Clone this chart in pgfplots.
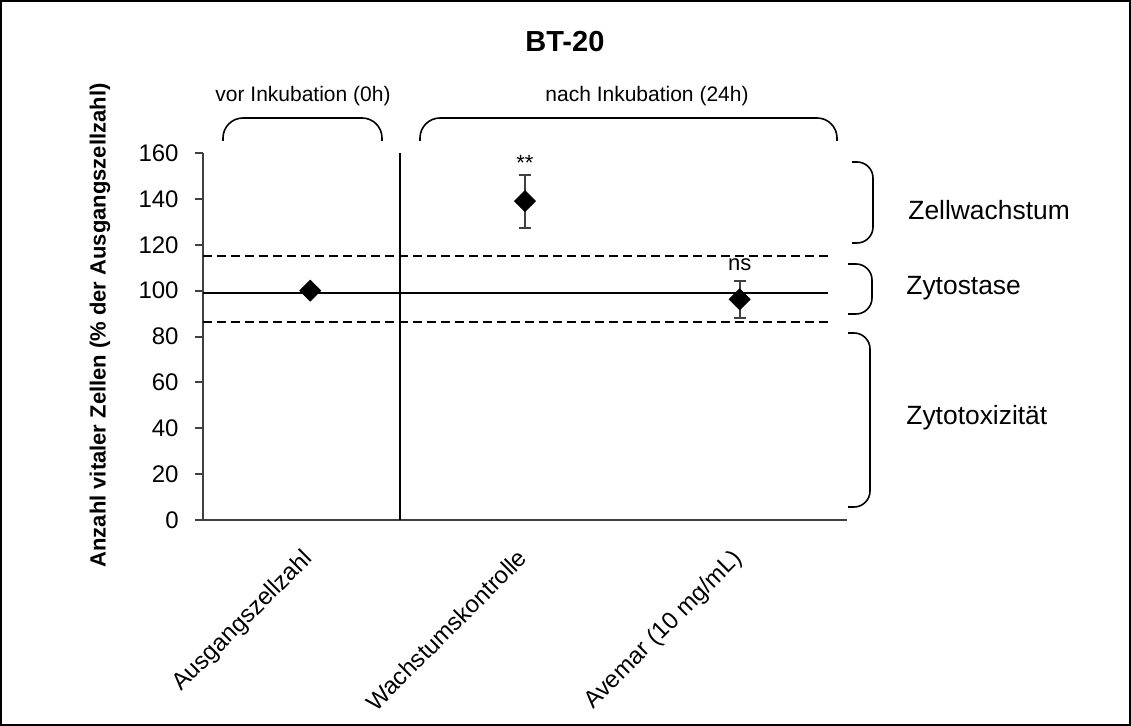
\documentclass[border=0pt]{standalone}
\usepackage{fontspec}
\setmainfont{Liberation Sans}
\usepackage{pgfplots}
\pgfplotsset{compat=1.18}
\begin{document}
\begin{tikzpicture}
\begin{axis}[
  at={(101.5pt,-260pt)}, anchor=south west,
  scale only axis, width=322pt, height=183.5pt,
  xmin=-0.5, xmax=2.5, ymin=0, ymax=160,
  axis x line*=bottom, axis y line*=left,
  axis line style={black!75, line width=1pt},
  xtick={0,1,2},
  xticklabels={Ausgangszellzahl, Wachstumskontrolle, Avemar (10 mg/mL)},
  x tick style={draw=none},
  ytick={0,20,...,160},
  y tick style={black!75, line width=1pt},
  tick align=outside, major tick length=4pt,
  /pgf/number format/assume math mode=true,
  tick label style={font=\fontsize{12}{14}\selectfont},
  yticklabel style={inner sep=0pt, xshift=-8pt},
  xticklabel style={yshift=-9.5pt, xshift=-4.5pt, rotate=45, anchor=north east, inner sep=0pt},
  ylabel={Anzahl vitaler Zellen (\% der Ausgangszellzahl)},
  ylabel style={font=\bfseries\fontsize{11}{13}\selectfont, at={(axis description cs:-0.16,0.53)}, anchor=center},
  title={BT-20},
  title style={font=\bfseries\fontsize{14.5}{16}\selectfont, at={(axis description cs:0.562,1.27)}, anchor=center},
  clip=false,
]
\addplot[black, line width=1pt] coordinates {(-0.5,99) (2.41,99)};
\addplot[black, line width=1pt, dash pattern=on 4.5pt off 2.5pt] coordinates {(-0.5,115.2) (2.41,115.2)};
\addplot[black, line width=1pt, dash pattern=on 4.5pt off 2.5pt] coordinates {(-0.5,86.2) (2.41,86.2)};
\addplot[black, line width=1pt] coordinates {(0.418,0) (0.418,160)};
\addplot[only marks, mark=square*, mark size=3.7pt, mark options={rotate=45, fill=black, draw=black}] coordinates {(0,100)};
\addplot[only marks, mark=square*, mark size=3.7pt, mark options={rotate=45, fill=black, draw=black},
  error bars/.cd, y dir=both, y explicit,
  error bar style={black!75, line width=1pt},
  error mark options={rotate=90, mark size=3pt, line width=1pt, black!75}]
  coordinates {(1,139) +- (0,11.6) (2,96.2) +- (0,8.1)};
\node[font=\fontsize{11}{13}\selectfont] at (axis cs:1,155.6) {**};
\node[font=\fontsize{11}{13}\selectfont] at (axis cs:2,111.2) {ns};
\end{axis}
\begin{scope}[x=0.5pt, y=-0.5pt]
\draw[line width=1pt] (1,1) rectangle (1130,725);
\draw[line width=0.8pt, rounded corners=10pt] (223,141) -- (223,118) -- (382,118) -- (382,141);
\draw[line width=0.8pt, rounded corners=10pt] (420,141) -- (420,118) -- (837,118) -- (837,141);
\node[font=\fontsize{10.5}{12}\selectfont] at (303,96) {vor Inkubation (0h)};
\node[font=\fontsize{10.5}{12}\selectfont] at (647,96) {nach Inkubation (24h)};
\draw[line width=0.8pt, rounded corners=8pt] (852,162) -- (873,162) -- (873,243) -- (852,243);
\draw[line width=0.8pt, rounded corners=8pt] (848,264) -- (872,264) -- (872,314) -- (848,314);
\draw[line width=0.8pt, rounded corners=8pt] (848,333) -- (870,333) -- (870,507) -- (848,507);
\node[font=\fontsize{13.2}{15}\selectfont, anchor=west, inner sep=0pt] at (908,210) {Zellwachstum};
\node[font=\fontsize{13.2}{15}\selectfont, anchor=west, inner sep=0pt] at (906,288) {Zytostase};
\node[font=\fontsize{13.2}{15}\selectfont, anchor=west, inner sep=0pt] at (906,418) {Zytotoxizität};
\end{scope}
\end{tikzpicture}
\end{document}
